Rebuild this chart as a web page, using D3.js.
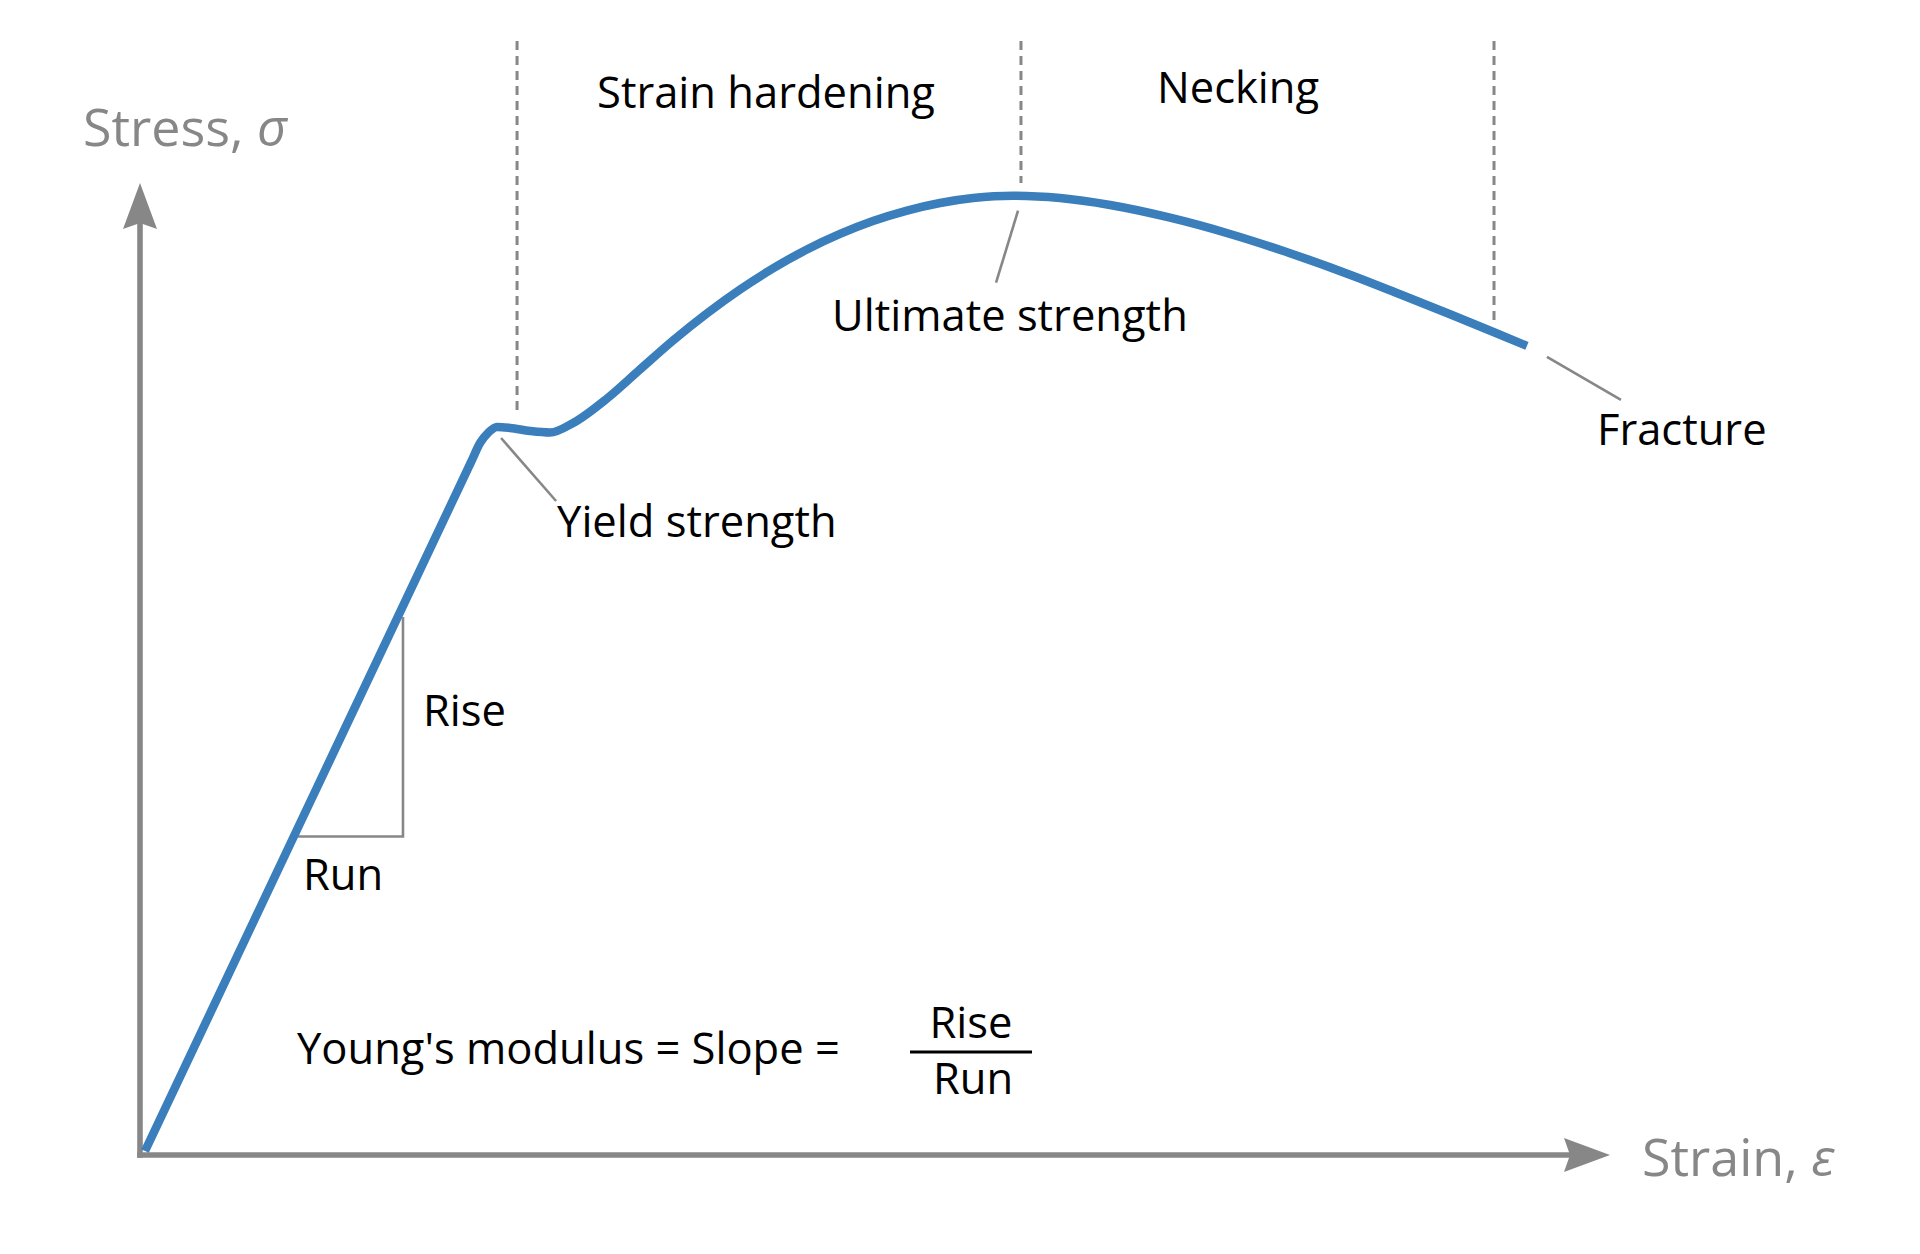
<!DOCTYPE html>
<html>
<head>
<meta charset="utf-8">
<script src="https://cdn.jsdelivr.net/npm/d3@7"></script>
<style>
  html, body { margin: 0; padding: 0; background: #ffffff; }
  svg { display: block; }
  text { font-family: "Open Sans", "Noto Sans", sans-serif; }
</style>
</head>
<body>
<svg id="chart" width="1920" height="1254"></svg>
<script>
// ---------------- data ----------------
// Stress–strain curve, arbitrary units (strain 0–100, stress 0–100)
const strain = [0, 10.54, 17.35, 21.43, 22.24, 22.79, 23.33, 23.95, 24.83, 26.19, 27.55, 29.12, 31.43, 33.67, 35.92, 38.23, 40.48, 42.72, 45.03, 47.28, 49.52, 51.84, 54.08, 56.33, 59.05, 62.24, 65.65, 69.66, 73.81, 77.89, 82.24, 85.37, 88.78, 91.77, 94.01];
const stress = [0, 33.76, 55.55, 68.62, 71.23, 72.99, 74.02, 74.64, 74.54, 74.23, 74.07, 75.05, 77.58, 80.57, 83.56, 86.36, 88.82, 90.99, 92.94, 94.54, 95.87, 96.95, 97.73, 98.24, 98.48, 98.24, 97.52, 96.24, 94.54, 92.56, 90.19, 88.33, 86.27, 84.41, 83.00];

// Region boundaries (dashed lines)
const boundaryStrain = [25.31, 59.59, 91.77];
const boundaryBottomStress = [76.08, 99.79, 85.67];
const boundaryTopStress = 114.43;

// Region labels
const regionLabels = ["Strain hardening", "Necking"];

// Point annotations: index into curve arrays
const pointLabels = ["Yield strength", "Ultimate strength", "Fracture"];
const pointIndex = [7, 24, 34];

// Slope triangle on the elastic segment
const slopeRun = [10.41, 17.55];   // strain
const slopeRise = [32.42, 55.05];  // stress

const axisLabels = { y: "Stress, ", ySym: "σ", x: "Strain, ", xSym: "ε" };
const formulaText = "Young's modulus = Slope =";
const fracTop = "Rise", fracBottom = "Run";

// ---------------- layout ----------------
const svg = d3.select("#chart");
const x = d3.scaleLinear().domain([0, 100]).range([145, 1615]);
const y = d3.scaleLinear().domain([0, 100]).range([1151, 181]);

const GRAY = "#878787";
const BLUE = "#3a7ebb";
const FONT = 43.5;

const pts = strain.map((s, i) => [s, stress[i]]);

// Axes
const ax0 = x(0) - 5;          // vertical axis x
const ay0 = y(0) + 4;          // horizontal axis y
const yTip = 183, xTip = 1610;
svg.append("line").attr("x1", ax0).attr("y1", ay0 + 2.8).attr("x2", ax0).attr("y2", yTip + 40)
  .attr("stroke", GRAY).attr("stroke-width", 5.6);
svg.append("line").attr("x1", ax0 - 2.8).attr("y1", ay0).attr("x2", xTip - 40).attr("y2", ay0)
  .attr("stroke", GRAY).attr("stroke-width", 5.6);
// arrowheads
svg.append("path")
  .attr("d", `M${ax0},${yTip} L${ax0 + 17},${yTip + 46} L${ax0},${yTip + 40} L${ax0 - 17},${yTip + 46} Z`)
  .attr("fill", GRAY);
svg.append("path")
  .attr("d", `M${xTip},${ay0} L${xTip - 46},${ay0 - 17} L${xTip - 40},${ay0} L${xTip - 46},${ay0 + 17} Z`)
  .attr("fill", GRAY);

// Axis labels
const yl = svg.append("text").attr("x", 83).attr("y", 146).attr("font-size", 52).attr("fill", GRAY);
yl.append("tspan").text(axisLabels.y);
yl.append("tspan").attr("font-style", "italic").text(axisLabels.ySym);
const xl = svg.append("text").attr("x", 1642).attr("y", 1176).attr("font-size", 52).attr("fill", GRAY);
xl.append("tspan").text(axisLabels.x);
xl.append("tspan").attr("font-style", "italic").text(axisLabels.xSym);

// Dashed boundaries
svg.selectAll("line.bound").data(boundaryStrain).join("line")
  .attr("class", "bound")
  .attr("x1", d => x(d)).attr("x2", d => x(d))
  .attr("y1", y(boundaryTopStress))
  .attr("y2", (d, i) => y(boundaryBottomStress[i]))
  .attr("stroke", GRAY).attr("stroke-width", 3).attr("stroke-dasharray", "9,6");

// Region labels
const regionPos = [[x(boundaryStrain[0]) + 80, 108], [x(boundaryStrain[1]) + 136, 103]];
svg.selectAll("text.region").data(regionLabels).join("text")
  .attr("class", "region")
  .attr("x", (d, i) => regionPos[i][0]).attr("y", (d, i) => regionPos[i][1])
  .attr("font-size", FONT).attr("fill", "#000").text(d => d);

// Slope triangle
svg.append("path")
  .attr("d", `M${x(slopeRun[0])},${y(slopeRise[0])} L${x(slopeRun[1])},${y(slopeRise[0])} L${x(slopeRun[1])},${y(slopeRise[1])}`)
  .attr("fill", "none").attr("stroke", GRAY).attr("stroke-width", 2.6);
svg.append("text").attr("x", x(slopeRun[1]) + 20).attr("y", 726).attr("font-size", FONT).text(fracTop);
svg.append("text").attr("x", x(slopeRun[0]) + 5).attr("y", 890).attr("font-size", FONT).text(fracBottom);

// Curve
const line = d3.line().x(d => x(d[0])).y(d => y(d[1])).curve(d3.curveMonotoneX);
svg.append("path").datum(pts).attr("d", line)
  .attr("fill", "none").attr("stroke", BLUE).attr("stroke-width", 8.5)
  .attr("stroke-linecap", "butt").attr("stroke-linejoin", "round");

// Point annotations: leader offsets (px) and label positions
const leaders = [
  { from: [4, 11], to: [59, 74], label: [60, 110] },
  { from: [5, 15], to: [-17, 87], label: [-181, 135] },
  { from: [20, 11], to: [94, 54], label: [70, 99] }
];
pointIndex.forEach((idx, i) => {
  const px = x(pts[idx][0]), py = y(pts[idx][1]);
  const L = leaders[i];
  svg.append("line")
    .attr("x1", px + L.from[0]).attr("y1", py + L.from[1])
    .attr("x2", px + L.to[0]).attr("y2", py + L.to[1])
    .attr("stroke", GRAY).attr("stroke-width", 2.6);
  svg.append("text").attr("x", px + L.label[0]).attr("y", py + L.label[1])
    .attr("font-size", FONT).attr("fill", "#000").text(pointLabels[i]);
});

// Formula
svg.append("text").attr("x", 297).attr("y", 1064).attr("font-size", FONT).text(formulaText);
svg.append("line").attr("x1", 910).attr("x2", 1032).attr("y1", 1052).attr("y2", 1052)
  .attr("stroke", "#000").attr("stroke-width", 3);
svg.append("text").attr("x", 971).attr("y", 1038).attr("text-anchor", "middle").attr("font-size", FONT).text(fracTop);
svg.append("text").attr("x", 973).attr("y", 1094).attr("text-anchor", "middle").attr("font-size", FONT).text(fracBottom);
</script>
</body>
</html>
